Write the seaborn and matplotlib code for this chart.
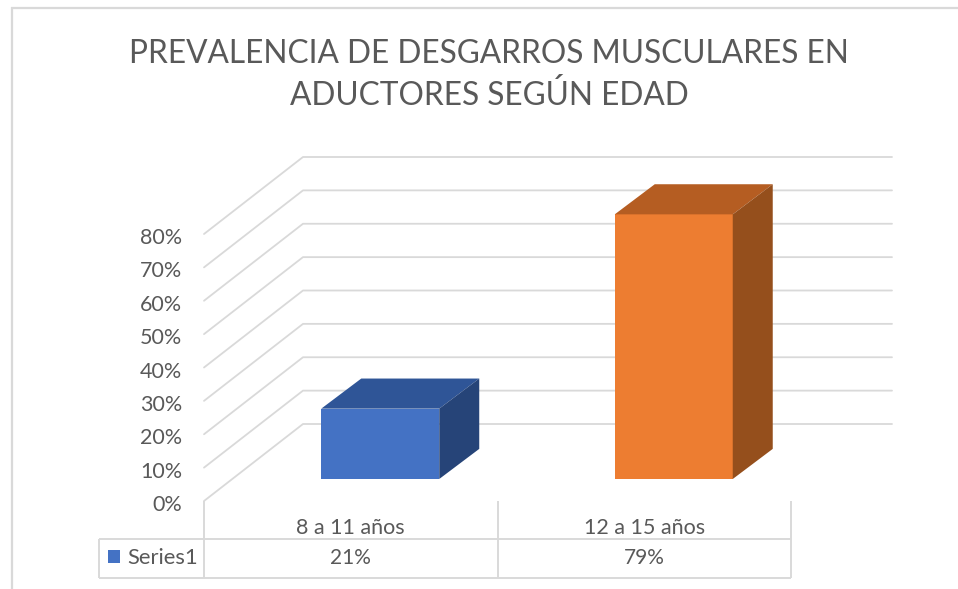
import matplotlib
matplotlib.use("Agg")
import matplotlib.pyplot as plt
from matplotlib.lines import Line2D
from matplotlib.patches import Polygon, Rectangle
from matplotlib.transforms import ScaledTranslation, blended_transform_factory
import pandas as pd
import seaborn as sns

categories = ["8 a 11 años", "12 a 15 años"]
values = [0.21, 0.79]
y_ticks = [0, 0.1, 0.2, 0.3, 0.4, 0.5, 0.6, 0.7, 0.8]
series_name = "Series1"
title = "PREVALENCIA DE DESGARROS MUSCULARES EN\nADUCTORES SEGÚN EDAD"
front_colors = ["#4472C4", "#ED7D31"]
top_colors = ["#2F5597", "#B55D22"]
side_colors = ["#264478", "#954F1C"]
TEXT = "#595959"
GRID = "#D9D9D9"
FONT = "Lato"

W, H = 958, 589
sns.set_theme(style="white")
plt.rcParams["font.family"] = [FONT, "DejaVu Sans"]
fig = plt.figure(figsize=(W / 100, H / 100), dpi=100, facecolor="white")


def rect(x0, y_top, x1, y_bot):
    return [x0 / W, 1 - y_bot / H, (x1 - x0) / W, (y_bot - y_top) / H]


def fline(xs, ys, color=GRID, lw=1.4):
    fig.add_artist(Line2D([x / W for x in xs], [1 - y / H for y in ys],
                          color=color, lw=lw, solid_capstyle="butt"))


# Wall and gridlines live in the front plane of the chart box
ax_wall = fig.add_axes(rect(204, 234, 791, 501))
ax_wall.set_xlim(-0.5, 1.5)
ax_wall.set_ylim(0, 0.8)
ax_wall.patch.set_visible(False)
sns.despine(ax=ax_wall, left=True, bottom=True)
x_per_px = 2 / 587
y_per_px = 0.8 / 267
back_dx, back_dy = 99 * x_per_px, 77 * y_per_px
right_end = -0.5 + (892 - 204) * x_per_px
for v in y_ticks:
    ax_wall.plot([-0.5, -0.5 + back_dx, right_end], [v, v + back_dy, v + back_dy],
                 color=GRID, lw=1.3, clip_on=False, zorder=1)
ax_wall.set_yticks(y_ticks, [f"{round(v * 100)}%" for v in y_ticks])
ax_wall.set_xticks([0, 1], categories)
ax_wall.tick_params(axis="y", length=0, pad=22, labelsize=15.5, labelcolor=TEXT)
ax_wall.tick_params(axis="x", length=0, pad=12, labelsize=15.5, labelcolor=TEXT)
ax_wall.set_xlabel("")
ax_wall.set_ylabel("")
label_shift = ScaledTranslation(9 / 100, -2 / 100, fig.dpi_scale_trans)
for lab in ax_wall.get_yticklabels():
    lab.set_transform(lab.get_transform() + label_shift)

# Bars sit part of the way into the depth of the box
ax_bar = fig.add_axes(rect(233.5, 211, 820.5, 479))
df = pd.DataFrame({"edad": categories, "valor": values})
sns.barplot(data=df, x="edad", y="valor", hue="edad", palette=front_colors,
            width=0.402, legend=False, ax=ax_bar, saturation=1, zorder=3, linewidth=0)
ax_bar.set_xlim(-0.5, 1.5)
ax_bar.set_ylim(0, 0.8)
ax_bar.axis("off")
depth_x, depth_y = 40 * x_per_px, 30 * y_per_px
for patch, tc, sc in zip(list(ax_bar.patches), top_colors, side_colors):
    patch.set_edgecolor("none")
    x0, w, h = patch.get_x(), patch.get_width(), patch.get_height()
    x1 = x0 + w
    ax_bar.add_patch(Polygon([(x0, h), (x1, h), (x1 + depth_x, h + depth_y), (x0 + depth_x, h + depth_y)],
                             closed=True, fc=tc, ec="none", clip_on=False, zorder=3))
    ax_bar.add_patch(Polygon([(x1, 0), (x1 + depth_x, depth_y), (x1 + depth_x, h + depth_y), (x1, h)],
                             closed=True, fc=sc, ec="none", clip_on=False, zorder=3))

# Data table below the plot
fline([99, 791], [539, 539])
fline([99, 791], [578, 578])
fline([99, 99], [539, 578])
for x in (204, 498, 791):
    fline([x, x], [501, 578])
cell_tf = blended_transform_factory(ax_wall.transData, fig.transFigure)
for i, v in enumerate(values):
    ax_wall.text(i, 1 - 558 / H, f"{round(v * 100)}%", transform=cell_tf, ha="center",
                 va="center", fontsize=15, color=TEXT, clip_on=False)
fig.add_artist(Rectangle((108 / W, 1 - 563 / H), 12 / W, 13 / H, transform=fig.transFigure,
                         fc=front_colors[0], ec="none"))
fig.text(127 / W, 1 - 558 / H, series_name, ha="left", va="center", fontsize=15.8, color=TEXT)

# Chart frame: only left and top edges are in the picture
fline([11.5, 11.5], [7, 589], lw=1.6)
fline([11, 958], [7.5, 7.5], lw=1.6)

fig.text(489 / W, 1 - 75 / H, title, ha="center", va="center", fontsize=22.8,
         color=TEXT, linespacing=1.47)

fig.savefig("out.png", dpi=100, facecolor="white")
